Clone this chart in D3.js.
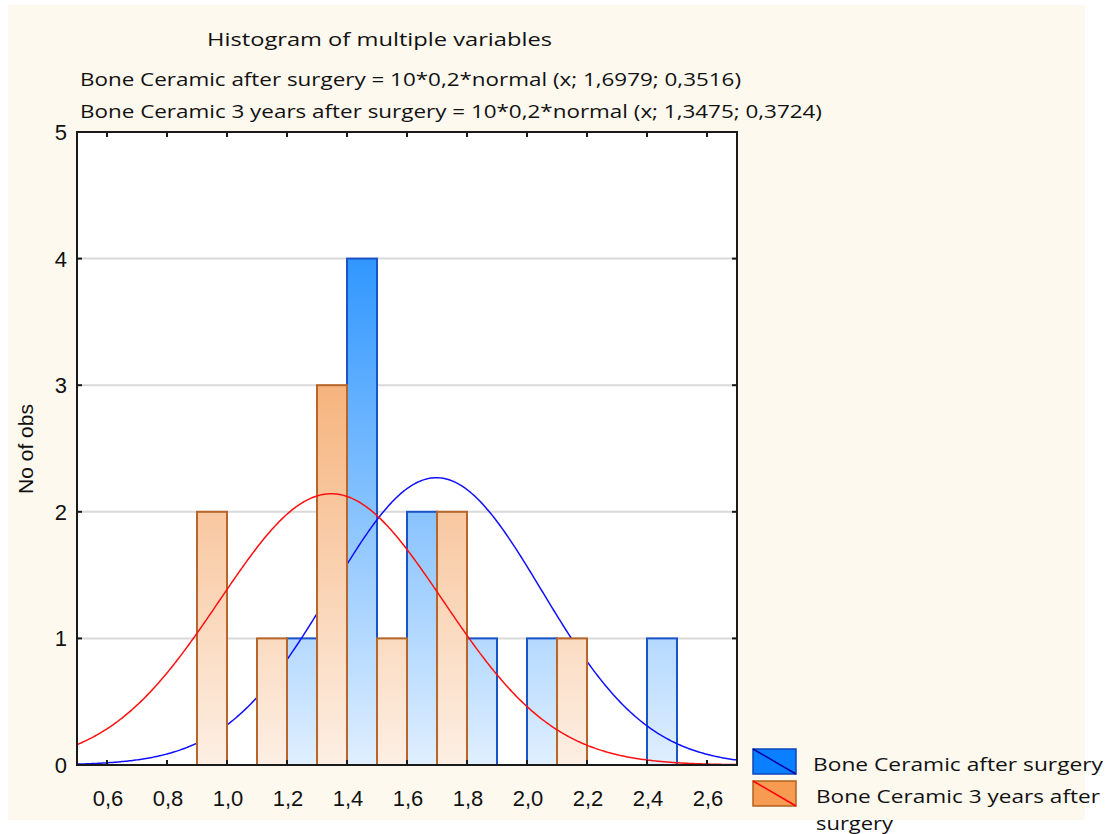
<!DOCTYPE html>
<html><head><meta charset="utf-8">
<script src="https://cdn.jsdelivr.net/npm/d3@7"></script>
<style>html,body{margin:0;padding:0;background:#fff;}svg{display:block;}</style>
</head><body>
<script>
// ---- data ----
const binStarts = [0.8, 1.0, 1.2, 1.4, 1.6, 1.8, 2.0, 2.2, 2.4];   // bins of width 0.2
const afterCounts = [0, 0, 1, 4, 2, 1, 1, 0, 1];                  // Bone Ceramic after surgery
const after3Counts = [2, 1, 3, 1, 2, 0, 1, 0, 0];                 // Bone Ceramic 3 years after surgery
const seriesNames = ["Bone Ceramic after surgery", "Bone Ceramic 3 years after surgery"];
const fitMeans = [1.6979, 1.3475];
const fitSds = [0.3516, 0.3724];
const fitN = 10, binWidth = 0.2;
const xTicks = [0.6, 0.8, 1.0, 1.2, 1.4, 1.6, 1.8, 2.0, 2.2, 2.4, 2.6];
const yTicks = [0, 1, 2, 3, 4, 5];
const titleText = "Histogram of multiple variables";
const fitLines = [
  "Bone Ceramic after surgery  = 10*0,2*normal (x; 1,6979; 0,3516)",
  "Bone Ceramic 3 years after surgery = 10*0,2*normal (x; 1,3475; 0,3724)"
];

const W = 1107, H = 834;
const svg = d3.select("body").append("svg").attr("width", W).attr("height", H);
const defs = svg.append("defs");

// background
svg.append("rect").attr("x",0).attr("y",0).attr("width",W).attr("height",H).attr("fill","#ffffff");
svg.append("rect").attr("x",8).attr("y",5).attr("width",1077).attr("height",815).attr("fill","#fef9ef");

const L = 77, R = 737, T = 132, B = 765;
const x = d3.scaleLinear().domain([0.5, 2.7]).range([L, R]);
const y = d3.scaleLinear().domain([0, 5]).range([B, T]);

svg.append("rect").attr("x",L).attr("y",T).attr("width",R-L).attr("height",B-T).attr("fill","#ffffff");

// gradients
const gB = defs.append("linearGradient").attr("id","gBlue").attr("gradientUnits","userSpaceOnUse")
  .attr("x1",0).attr("x2",0).attr("y1",y(4)).attr("y2",y(0));
gB.append("stop").attr("offset","0").attr("stop-color","#3097ff");
gB.append("stop").attr("offset","1").attr("stop-color","#e0efff");
const gO = defs.append("linearGradient").attr("id","gOrange").attr("gradientUnits","userSpaceOnUse")
  .attr("x1",0).attr("x2",0).attr("y1",y(3)).attr("y2",y(0));
gO.append("stop").attr("offset","0").attr("stop-color","#f6b47e");
gO.append("stop").attr("offset","1").attr("stop-color","#fdefe4");

// gridlines
svg.append("g").selectAll("line").data(yTicks.filter(d=>d>0 && d<5)).join("line")
  .attr("x1",L).attr("x2",R).attr("y1",d=>y(d)).attr("y2",d=>y(d))
  .attr("stroke","#d9d9d9").attr("stroke-width",2);

// curves
function curve(i){
  const pts = d3.range(0, 441).map(k => {
    const xv = 0.5 + k*0.005;
    const z = (xv - fitMeans[i]) / fitSds[i];
    return [xv, fitN*binWidth*Math.exp(-0.5*z*z)/(fitSds[i]*Math.sqrt(2*Math.PI))];
  });
  return d3.line().x(d=>x(d[0])).y(d=>y(d[1]))(pts);
}

const half = binWidth/2;
// blue bars (left half of each bin)
svg.append("g").selectAll("rect").data(binStarts.map((b,i)=>({b, c:afterCounts[i]})).filter(d=>d.c>0)).join("rect")
  .attr("x",d=>x(d.b)).attr("width",d=>x(d.b+half)-x(d.b))
  .attr("y",d=>y(d.c)).attr("height",d=>y(0)-y(d.c))
  .attr("fill","url(#gBlue)").attr("stroke","#1b54c9").attr("stroke-width",2);
svg.append("path").attr("d",curve(0)).attr("fill","none").attr("stroke","#1010ff").attr("stroke-width",1.5);

// orange bars (right half)
svg.append("g").selectAll("rect").data(binStarts.map((b,i)=>({b, c:after3Counts[i]})).filter(d=>d.c>0)).join("rect")
  .attr("x",d=>x(d.b+half)).attr("width",d=>x(d.b+binWidth)-x(d.b+half))
  .attr("y",d=>y(d.c)).attr("height",d=>y(0)-y(d.c))
  .attr("fill","url(#gOrange)").attr("stroke","#b7652a").attr("stroke-width",2);
svg.append("path").attr("d",curve(1)).attr("fill","none").attr("stroke","#ff1010").attr("stroke-width",1.5);

// frame
svg.append("rect").attr("x",L).attr("y",T).attr("width",R-L).attr("height",B-T)
  .attr("fill","none").attr("stroke","#1a1a1a").attr("stroke-width",2);

// ticks (inward)
const tk = svg.append("g").attr("stroke","#1a1a1a").attr("stroke-width",2);
tk.selectAll(".tb").data(xTicks).join("line").attr("x1",d=>x(d)).attr("x2",d=>x(d)).attr("y1",B).attr("y2",B-5);
tk.selectAll(".tt").data(xTicks).join("line").attr("x1",d=>x(d)).attr("x2",d=>x(d)).attr("y1",T).attr("y2",T+5);
tk.selectAll(".tl").data(yTicks).join("line").attr("x1",L).attr("x2",L+5).attr("y1",d=>y(d)).attr("y2",d=>y(d));
tk.selectAll(".tr").data(yTicks).join("line").attr("x1",R).attr("x2",R-5).attr("y1",d=>y(d)).attr("y2",d=>y(d));

// tick labels
const af = "Liberation Sans, Arial, sans-serif";
const fmt = d => d3.format(".1f")(d).replace(".", ",");
svg.append("g").selectAll("text").data(xTicks).join("text")
  .attr("x",d=>x(d)+1).attr("y",806).attr("text-anchor","middle")
  .attr("font-family",af).attr("font-size",22).attr("fill","#111")
  .text(fmt);
svg.append("g").selectAll("text").data(yTicks).join("text")
  .attr("x",67).attr("y",d=>y(d)+8).attr("text-anchor","end")
  .attr("font-family",af).attr("font-size",22).attr("fill","#111")
  .text(d=>d);
svg.append("text").attr("transform","translate(33,449) rotate(-90)").attr("text-anchor","middle")
  .attr("font-family",af).attr("font-size",21).attr("fill","#111")
  .text("No of obs");

// titles
const tf = "Open Sans, Noto Sans, sans-serif";
svg.append("text").attr("x",207).attr("y",46).attr("font-family",tf).attr("font-size",18).attr("fill","#111")
  .attr("textLength",345).attr("lengthAdjust","spacingAndGlyphs").text(titleText);
svg.append("text").attr("x",80).attr("y",86).attr("font-family",tf).attr("font-size",18).attr("fill","#111")
  .attr("textLength",661).attr("lengthAdjust","spacingAndGlyphs").text(fitLines[0]);
svg.append("text").attr("x",80).attr("y",118).attr("font-family",tf).attr("font-size",18).attr("fill","#111")
  .attr("textLength",742).attr("lengthAdjust","spacingAndGlyphs").text(fitLines[1]);

// legend
const lg = svg.append("g");
const sw = [
  {y:749, fill:"#0a7fff", stroke:"#0c46b8", diag:"#0000a8"},
  {y:781, fill:"#f89b52", stroke:"#b0611f", diag:"#ff0000"}
];
sw.forEach(s => {
  lg.append("rect").attr("x",753).attr("y",s.y).attr("width",43).attr("height",25)
    .attr("fill",s.fill).attr("stroke",s.stroke).attr("stroke-width",1.5);
  lg.append("line").attr("x1",753).attr("y1",s.y).attr("x2",796).attr("y2",s.y+25)
    .attr("stroke",s.diag).attr("stroke-width",1.5);
});
lg.append("text").attr("x",813).attr("y",771).attr("font-family",tf).attr("font-size",18).attr("fill","#111")
  .attr("textLength",290).attr("lengthAdjust","spacingAndGlyphs").text(seriesNames[0]);
lg.append("text").attr("x",816).attr("y",803).attr("font-family",tf).attr("font-size",18).attr("fill","#111")
  .attr("textLength",284).attr("lengthAdjust","spacingAndGlyphs").text("Bone Ceramic 3 years after");
lg.append("text").attr("x",816).attr("y",830).attr("font-family",tf).attr("font-size",18).attr("fill","#111")
  .attr("textLength",77).attr("lengthAdjust","spacingAndGlyphs").text("surgery");
</script>
</body></html>
